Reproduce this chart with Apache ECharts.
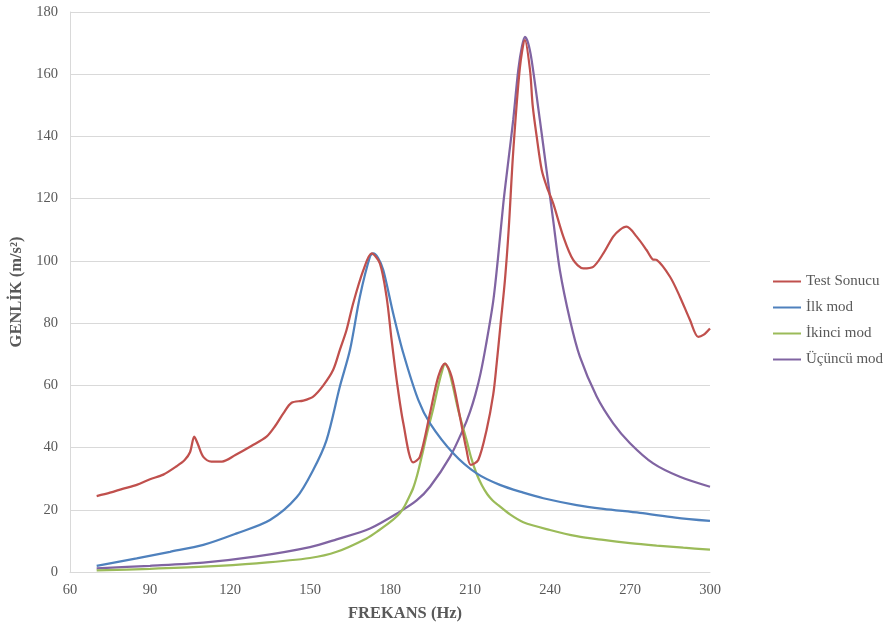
<!DOCTYPE html>
<html><head><meta charset="utf-8">
<script src="https://cdn.jsdelivr.net/npm/echarts@6/dist/echarts.min.js"></script>
<style>html,body{margin:0;padding:0;background:#fff}#c{width:888px;height:628px}</style>
</head><body><div id="c"></div>
<script>
var seriesNames = ['Test Sonucu', 'İlk mod', 'İkinci mod', 'Üçüncü mod'];
var xTicks = [60, 90, 120, 150, 180, 210, 240, 270, 300];
var yTicks = [0, 20, 40, 60, 80, 100, 120, 140, 160, 180];

var testX = [70,75,80,85,90,95,100,103,105,106.6,108,110,113,117,122,128,133.7,137,140,143.1,147.5,151.2,155,158.7,161.2,163.7,166.2,170,173.1,176.2,178.7,180.6,182.5,185,188.7,191.2,195,198.1,200.6,203.1,206.2,208.7,210.3,213.1,216.2,218.7,220,221.5,223.1,224.5,226.2,228.7,230.6,232.5,233.5,235,236.9,238.8,241.2,245,248.7,252.5,256.2,260,263.7,266.2,268.7,272.5,276.2,278.5,280,285,288.7,292.5,295.6,297.5,300];
var testY = [24.4,25.5,26.8,28,29.8,31.3,34,36,38.5,43.5,41,37,35.5,35.5,37.6,40.5,43.5,47,51,54.4,55.1,56.4,60,65,71.4,77.8,86.4,97,102.4,99.2,88.5,74.6,61.7,47.8,35.2,37,51,62.8,67,62.8,50,39.2,34.4,36,45.6,57,67,80,93.8,110,135,162,171,161.4,150,140,129.2,123.8,118.5,107.8,100.3,97.6,98.1,102.4,107.8,110,111,107.8,103.5,100.5,100.3,94.9,88.5,81,75.6,76.2,78.3];

var mod1X = [70,85,97.5,110,122.5,135,145,151.2,156.2,161.2,165,168.7,172.5,173.7,175.5,177.5,181.2,185,190.6,195,203.7,212.5,221.2,230,237.5,250,260,273.7,287,300];
var mod1Y = [2,4.4,6.5,8.7,12.4,16.7,24,32.8,42.4,59.6,71.4,88.5,101.4,102.4,101,97,83.1,70.3,55.3,47.8,38.2,31.7,28,25.5,23.7,21.5,20.3,19,17.5,16.4];

var mod2X = [70,90,110,130,150,160,171.2,176,180,183.7,185.5,187,188.7,190.3,192,194,196.2,198,199.5,200.6,201.8,203.5,205.6,208.7,210.5,212.5,214.5,216.5,218.5,220.6,225,230,240,250,260,270,280,290,300];
var mod2Y = [0.5,1,1.7,2.8,4.5,6.5,10.8,13.5,16,18.9,21.2,23.8,27,31.5,37.5,45,52.5,59.5,64.5,67,65.5,60,52,42.4,36.5,31.5,27.8,25,23,21.5,18.5,16,13.5,11.5,10.3,9.3,8.5,7.8,7.2];

var mod3X = [70,90,110,130,150,160,172.5,183.7,190,195,202.5,207.5,210,212,214,216,218.7,220.5,222.5,224.5,226.2,228.1,229.5,230.6,231.8,233.1,236.2,238.7,241.2,243.7,247.5,251.2,257.5,263.7,270,278.7,288.7,300];
var mod3Y = [1.2,2,3,5,8,10.5,14,19.4,23,27.4,37,46,51.5,57,64,73,87,101,118.5,133,145.3,161.4,169,172,170,164.6,145.3,129.2,113,97,81,69.2,56.4,47.8,41.4,34.9,30.6,27.4];

function pairs(xs, ys){ return xs.map(function(x,i){ return [x, ys[i]]; }); }
var colors = ['#C0504D', '#4F81BD', '#9BBB59', '#8064A2'];
var font = '"Liberation Serif", "Times New Roman", serif';
var allX = [testX, mod1X, mod2X, mod3X];
var allY = [testY, mod1Y, mod2Y, mod3Y];

var chart = echarts.init(document.getElementById('c'), null, {renderer: 'canvas'});
chart.setOption({
  animation: false,
  backgroundColor: '#fff',
  color: colors,
  grid: {left: 70, right: 178, top: 12, bottom: 56, containLabel: false},
  legend: {
    orient: 'vertical', left: 768, top: 269,
    icon: 'rect', itemWidth: 28, itemHeight: 2, itemGap: 11,
    textStyle: {fontFamily: font, fontSize: 15, color: '#595959'},
    data: seriesNames
  },
  xAxis: {
    type: 'value', min: xTicks[0], max: xTicks[xTicks.length-1], interval: 30,
    name: 'FREKANS (Hz)', nameLocation: 'middle', nameGap: 33,
    nameTextStyle: {fontFamily: font, fontSize: 16.5, fontWeight: 'bold', color: '#595959', padding: [0,0,0,30]},
    axisLine: {show: true, lineStyle: {color: '#d9d9d9', width: 1}},
    axisTick: {show: false},
    splitLine: {show: false},
    axisLabel: {fontFamily: font, fontSize: 14.5, color: '#595959', margin: 11}
  },
  yAxis: {
    type: 'value', min: yTicks[0], max: yTicks[yTicks.length-1], interval: 20,
    name: 'GENLİK (m/s²)', nameLocation: 'middle', nameGap: 36,
    nameTextStyle: {fontFamily: font, fontSize: 16.5, fontWeight: 'bold', color: '#595959'},
    axisLine: {show: true, lineStyle: {color: '#d9d9d9', width: 1}},
    axisTick: {show: false},
    splitLine: {show: true, lineStyle: {color: '#d9d9d9', width: 1}},
    axisLabel: {fontFamily: font, fontSize: 14.5, color: '#595959', margin: 12}
  },
  series: seriesNames.map(function(n, i){
    return {
      name: n, type: 'line', data: pairs(allX[i], allY[i]),
      showSymbol: false, symbol: 'none', smooth: 0.3,
      lineStyle: {width: 2.25, color: colors[i]}, z: 4 - i
    };
  })
});
</script></body></html>
